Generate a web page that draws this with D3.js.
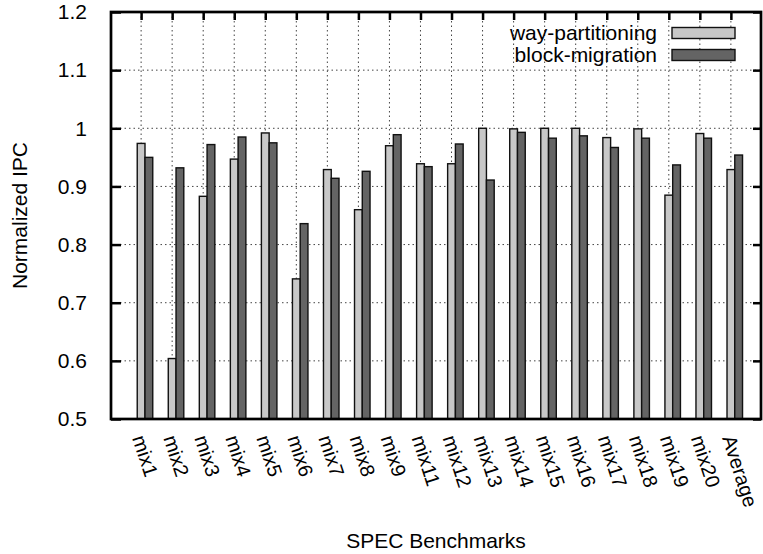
<!DOCTYPE html>
<html>
<head>
<meta charset="utf-8">
<script src="https://cdn.jsdelivr.net/npm/d3@7"></script>
<style>
  html, body { margin: 0; padding: 0; background: #fff; }
  svg { display: block; font-family: "Liberation Sans", Arial, Helvetica, sans-serif; }
</style>
</head>
<body>
<svg id="chart" width="763" height="554"></svg>
<script>
// Benchmarks on the x axis
const categories = ["mix1","mix2","mix3","mix4","mix5","mix6","mix7","mix8","mix9",
  "mix11","mix12","mix13","mix14","mix15","mix16","mix17","mix18","mix19","mix20","Average"];

// Normalized IPC per benchmark
const wayPartitioning = [0.974,0.604,0.883,0.947,0.992,0.741,0.929,0.860,0.970,
  0.939,0.939,1.000,0.999,1.000,1.000,0.984,0.999,0.885,0.991,0.929];
const blockMigration  = [0.950,0.932,0.972,0.985,0.975,0.836,0.914,0.926,0.989,
  0.934,0.973,0.911,0.993,0.983,0.987,0.967,0.983,0.937,0.983,0.954];

const seriesNames = ["way-partitioning", "block-migration"];
const yTicks = [0.5,0.6,0.7,0.8,0.9,1.0,1.1,1.2];
const yTickLabels = ["0.5","0.6","0.7","0.8","0.9","1","1.1","1.2"];

const svg = d3.select("#chart");
const pLeft = 111, pRight = 761, pTop = 12, pBottom = 419;
const fontSize = 21;

const x = d3.scaleLinear().domain([-0.97, categories.length - 0.03]).range([pLeft, pRight]);
const y = d3.scaleLinear().domain([0.5, 1.2]).range([pBottom, pTop]);
const barW = x(0.25) - x(0);
const colors = ["#c8c8c8", "#646464"];

// dotted grid
const grid = svg.append("g").attr("stroke", "#444").attr("stroke-width", 1)
  .attr("stroke-dasharray", "1.5,3");
grid.selectAll("line.h").data(yTicks.slice(1, -1)).join("line")
  .attr("x1", pLeft).attr("x2", pRight).attr("y1", d => y(d)).attr("y2", d => y(d));
grid.selectAll("line.v").data(categories).join("line")
  .attr("x1", (d, i) => x(i)).attr("x2", (d, i) => x(i)).attr("y1", pTop).attr("y2", pBottom);

// bars
const series = [wayPartitioning, blockMigration];
series.forEach((vals, s) => {
  svg.append("g").selectAll("rect").data(vals).join("rect")
    .attr("x", (d, i) => x(i - 0.125 + s * 0.25))
    .attr("y", d => y(d))
    .attr("width", barW)
    .attr("height", d => pBottom - y(d))
    .attr("fill", colors[s])
    .attr("stroke", "#111")
    .attr("stroke-width", 1.4);
});

// y axis left and right
const yAxisL = d3.axisLeft(y).tickValues(yTicks).tickFormat((d, i) => yTickLabels[i])
  .tickSizeInner(-10).tickSizeOuter(0).tickPadding(24);
const gL = svg.append("g").attr("transform", `translate(${pLeft},0)`).call(yAxisL);
gL.select(".domain").remove();
gL.selectAll(".tick line").attr("stroke", "#000").attr("stroke-width", 2.5);
gL.selectAll(".tick text").attr("font-size", fontSize).attr("fill", "#000")
  .attr("font-family", "Liberation Sans, Arial, sans-serif");

const yAxisR = d3.axisRight(y).tickValues(yTicks).tickFormat("").tickSizeInner(-8).tickSizeOuter(0);
const gR = svg.append("g").attr("transform", `translate(${pRight},0)`).call(yAxisR);
gR.select(".domain").remove();
gR.selectAll(".tick line").attr("stroke", "#000").attr("stroke-width", 2.5);

// x axis: ticks on top, rotated labels below
const idx = d3.range(categories.length);
const xAxisT = d3.axisTop(x).tickValues(idx).tickFormat("").tickSizeInner(-8).tickSizeOuter(0);
const gT = svg.append("g").attr("transform", `translate(0,${pTop})`).call(xAxisT);
gT.select(".domain").remove();
gT.selectAll(".tick line").attr("stroke", "#000").attr("stroke-width", 2.5);

svg.append("g").selectAll("text").data(categories).join("text")
  .attr("transform", (d, i) => `translate(${x(i) - 9},${pBottom + 19}) rotate(72)`)
  .attr("font-size", 20)
  .attr("text-anchor", "start")
  .text(d => d);

// frame
svg.append("rect").attr("x", pLeft).attr("y", pTop)
  .attr("width", pRight - pLeft).attr("height", pBottom - pTop)
  .attr("fill", "none").attr("stroke", "#000").attr("stroke-width", 2.7);

// axis titles
svg.append("text").attr("x", (pLeft + pRight) / 2).attr("y", 548)
  .attr("text-anchor", "middle").attr("font-size", fontSize).text("SPEC Benchmarks");
svg.append("text").attr("transform", `translate(27,${(pTop + pBottom) / 2}) rotate(-90)`)
  .attr("text-anchor", "middle").attr("font-size", fontSize).text("Normalized IPC");

// legend
const legend = svg.append("g");
seriesNames.forEach((name, s) => {
  const cy = 33 + s * 22;
  legend.append("text").attr("x", 657).attr("y", cy).attr("dy", "0.35em")
    .attr("text-anchor", "end").attr("font-size", fontSize).text(name);
  legend.append("rect").attr("x", 672).attr("y", cy - 5.5).attr("width", 63).attr("height", 11)
    .attr("fill", colors[s]).attr("stroke", "#111").attr("stroke-width", 1.4);
});
</script>
</body>
</html>
